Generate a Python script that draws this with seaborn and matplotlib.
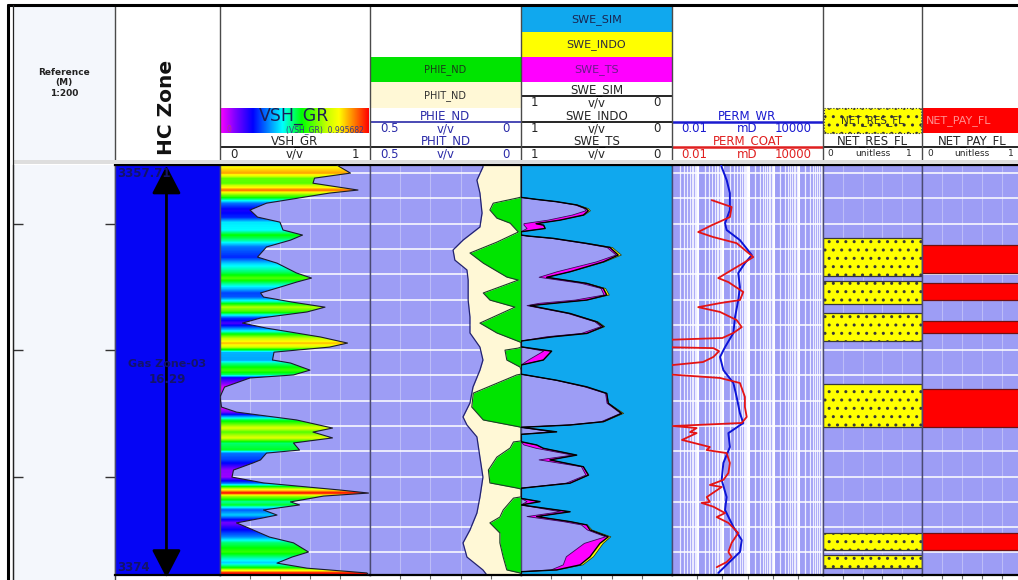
import numpy as np
import matplotlib
matplotlib.use("Agg")
import matplotlib.pyplot as plt
import seaborn as sns
from matplotlib.colors import LinearSegmentedColormap
from matplotlib.patches import Rectangle
from matplotlib.ticker import LogLocator, NullFormatter

sns.set_theme(style="white")
plt.rcParams["font.family"] = ["DejaVu Sans"]

# ---------------------------------------------------------------- data
TOP_DEPTH, BASE_DEPTH = 3357.68, 3373.89
REF_TICKS = [3360, 3365, 3370]

ZONE_NAME = "Gas Zone-03"
ZONE_TOP = 3357.71
ZONE_BASE = 3374.0

VSH_DEPTH = [3357.68, 3357.76, 3358.00, 3358.20, 3358.40, 3358.67, 3358.79, 3359.19, 3359.46,
             3359.74, 3359.94, 3360.25, 3360.45, 3360.65, 3360.92, 3361.32, 3361.56, 3361.95,
             3362.15, 3362.31, 3362.51, 3362.74, 3362.90, 3363.10, 3363.30, 3363.49, 3363.73,
             3363.93, 3364.13, 3364.48, 3364.72, 3364.88, 3365.08, 3365.39, 3365.51, 3365.79,
             3365.98, 3366.10, 3366.46, 3366.85, 3367.25, 3367.45, 3367.76, 3368.08, 3368.24,
             3368.47, 3368.67, 3368.95, 3369.07, 3369.34, 3369.46, 3369.74, 3370.02, 3370.25,
             3370.53, 3370.65, 3370.77, 3371.00, 3371.12, 3371.32, 3371.52, 3371.64, 3371.83,
             3372.03, 3372.39, 3372.62, 3372.98, 3373.18, 3373.42, 3373.62, 3373.81, 3373.89]
VSH_GR = [0.78, 0.80, 0.87, 0.63, 0.62, 0.92, 0.73, 0.31, 0.20,
          0.25, 0.40, 0.42, 0.55, 0.47, 0.31, 0.25, 0.38, 0.51,
          0.61, 0.51, 0.40, 0.27, 0.29, 0.48, 0.70, 0.58, 0.27,
          0.15, 0.31, 0.67, 0.85, 0.73, 0.36, 0.35, 0.47, 0.60,
          0.49, 0.20, 0.03, 0.00, 0.01, 0.11, 0.51, 0.75, 0.62,
          0.75, 0.49, 0.53, 0.31, 0.27, 0.22, 0.09, 0.08, 0.29,
          0.80, 0.99, 0.69, 0.47, 0.53, 0.29, 0.38, 0.28, 0.11,
          0.19, 0.33, 0.49, 0.59, 0.48, 0.38, 0.58, 0.98, 0.99]
VSH_MAX = 0.995682

PHIT_DEPTH = [3357.68, 3357.76, 3358.28, 3358.79, 3359.58, 3360.13, 3360.65, 3361.04, 3361.44,
              3361.83, 3362.23, 3363.02, 3363.69, 3364.32, 3364.88, 3365.39, 3365.79, 3366.46,
              3367.09, 3367.64, 3367.96, 3368.43, 3369.23, 3370.02, 3370.81, 3371.44, 3372.11,
              3372.62, 3373.18, 3373.69, 3373.89]
PHIT_ND = [0.126, 0.126, 0.146, 0.136, 0.129, 0.136, 0.192, 0.225, 0.219,
           0.179, 0.175, 0.175, 0.169, 0.169, 0.136, 0.126, 0.136, 0.159,
           0.169, 0.192, 0.179, 0.146, 0.136, 0.126, 0.136, 0.146, 0.169,
           0.192, 0.179, 0.126, 0.113]

PHIE_DEPTH = [3357.68, 3358.95, 3358.99, 3359.19, 3359.46, 3359.78, 3359.98, 3360.33, 3360.73,
              3361.16, 3361.56, 3362.11, 3362.23, 3362.74, 3363.02, 3363.30, 3363.93, 3364.32,
              3364.68, 3364.72, 3364.88, 3364.92, 3365.00, 3365.39, 3365.67, 3365.79, 3365.95,
              3365.98, 3366.70, 3367.25, 3367.76, 3368.04, 3368.08, 3368.59, 3368.63, 3368.87,
              3369.23, 3369.74, 3370.25, 3370.45, 3370.49, 3370.80, 3370.85, 3371.32, 3371.60,
              3371.83, 3372.23, 3372.62, 3373.18, 3373.69, 3373.81, 3373.89]
PHIE_ND = [0.0, 0.0, 0.014, 0.092, 0.103, 0.080, 0.036, 0.009, 0.080,
           0.169, 0.125, 0.047, 0.009, 0.125, 0.103, 0.020, 0.136, 0.080,
           0.003, 0.0, 0.0, 0.010, 0.053, 0.047, 0.003, 0.0, 0.0,
           0.014, 0.158, 0.163, 0.125, 0.003, 0.0, 0.0, 0.025, 0.036,
           0.080, 0.108, 0.103, 0.014, 0.0, 0.0, 0.025, 0.059, 0.070,
           0.103, 0.070, 0.070, 0.059, 0.047, 0.003, 0.0]

SW_DEPTH = [3357.68, 3358.96, 3359.04, 3359.13, 3359.26, 3359.40, 3359.49, 3359.66, 3359.86,
            3360.00, 3360.06, 3360.19, 3360.32, 3360.45, 3360.49, 3360.58, 3360.78, 3360.94,
            3361.24, 3361.51, 3361.90, 3362.12, 3362.36, 3362.56, 3362.82, 3363.02, 3363.15,
            3363.24, 3363.55, 3363.88, 3364.07, 3364.34, 3364.47, 3364.64, 3364.87, 3365.04,
            3365.39, 3365.59, 3365.95, 3366.19, 3366.45, 3366.71, 3367.10, 3367.50, 3367.83,
            3367.96, 3368.05, 3368.23, 3368.33, 3368.62, 3368.75, 3368.88, 3369.15, 3369.34,
            3369.61, 3369.94, 3370.26, 3370.46, 3370.86, 3370.99, 3371.12, 3371.39, 3371.58,
            3371.78, 3371.91, 3372.11, 3372.38, 3372.64, 3373.17, 3373.49, 3373.69, 3373.76,
            3373.89]
SWE_SIM = [1.0, 1.0, 0.896, 0.764, 0.631, 0.570, 0.554, 0.587, 0.742,
           0.900, 0.850, 0.840, 1.0, 1.0, 0.950, 0.786, 0.565, 0.411,
           0.356, 0.455, 0.675, 0.830, 0.565, 0.455, 0.432, 0.565, 0.786,
           0.940, 0.675, 0.499, 0.455, 0.565, 0.786, 1.0, 1.0, 0.797,
           0.852, 1.0, 1.0, 0.764, 0.565, 0.432, 0.422, 0.333, 0.455,
           0.675, 1.0, 0.764, 1.0, 1.0, 0.896, 0.852, 0.631, 0.808,
           0.587, 0.554, 0.675, 1.0, 1.0, 0.874, 1.0, 0.675, 0.896,
           0.675, 0.565, 0.543, 0.422, 0.477, 0.543, 0.609, 0.764, 1.0,
           1.0]
SWE_TS = [1.0, 1.0, 0.90, 0.77, 0.64, 0.58, 0.57, 0.66, 0.82,
          0.98, 0.98, 0.96, 1.0, 1.0, 0.96, 0.80, 0.58, 0.43,
          0.37, 0.50, 0.76, 0.88, 0.60, 0.47, 0.45, 0.64, 0.88,
          0.96, 0.69, 0.51, 0.47, 0.60, 0.83, 1.0, 1.0, 0.85,
          0.95, 1.0, 1.0, 0.77, 0.58, 0.44, 0.43, 0.34, 0.47,
          0.69, 1.0, 0.80, 1.0, 1.0, 0.98, 0.90, 0.66, 0.88,
          0.60, 0.57, 0.70, 1.0, 1.0, 0.96, 1.0, 0.74, 0.96,
          0.72, 0.60, 0.56, 0.44, 0.58, 0.70, 0.72, 0.80, 1.0,
          1.0]
SWE_INDO = [1.0, 1.0, 0.896, 0.764, 0.625, 0.555, 0.540, 0.580, 0.740,
            0.900, 0.850, 0.840, 1.0, 1.0, 0.950, 0.786, 0.560, 0.395,
            0.335, 0.445, 0.670, 0.830, 0.560, 0.440, 0.415, 0.560, 0.786,
            0.940, 0.675, 0.490, 0.445, 0.560, 0.786, 1.0, 1.0, 0.797,
            0.852, 1.0, 1.0, 0.764, 0.565, 0.432, 0.420, 0.320, 0.450,
            0.675, 1.0, 0.764, 1.0, 1.0, 0.896, 0.852, 0.631, 0.808,
            0.587, 0.550, 0.675, 1.0, 1.0, 0.874, 1.0, 0.675, 0.896,
            0.675, 0.560, 0.530, 0.405, 0.455, 0.520, 0.590, 0.760, 1.0,
            1.0]

PERM_WR_DEPTH = [3357.68, 3357.76, 3358.28, 3358.79, 3359.46, 3359.98, 3360.25, 3360.65, 3361.24,
                 3361.56, 3361.95, 3362.51, 3363.02, 3363.69, 3364.32, 3364.88, 3365.27, 3365.79,
                 3366.30, 3366.85, 3367.49, 3367.88, 3368.28, 3368.83, 3369.46, 3370.13, 3370.81,
                 3371.32, 3371.99, 3372.51, 3372.98, 3373.42, 3373.81]
PERM_WR = [0.90, 0.94, 1.49, 2.0, 2.0, 1.28, 1.48, 5.0, 14.8,
           7.9, 4.3, 5.0, 4.3, 3.2, 2.75, 1.28, 0.81, 1.1,
           2.75, 3.7, 5.0, 6.8, 1.74, 2.0, 1.1, 0.94, 1.48,
           1.28, 2.75, 5.9, 5.0, 1.74, 0.69]

PERM_COAT_DEPTH = [3359.07, 3359.34, 3359.74, 3360.06, 3360.33, 3360.53, 3360.77, 3361.32, 3361.56,
                   3361.91, 3362.15, 3362.31, 3362.70, 3363.02, 3363.14, 3363.30, 3363.49, 3363.81,
                   3364.09, 3364.32, 3364.52, 3364.60, 3364.88, 3364.92, 3365.04, 3365.27, 3365.47,
                   3365.63, 3365.95, 3365.98, 3366.10, 3366.30, 3366.85, 3367.25, 3367.64, 3367.88,
                   3368.00, 3368.08, 3368.24, 3368.28, 3368.55, 3368.83, 3368.95, 3369.07, 3369.46,
                   3369.86, 3370.13, 3370.33, 3370.41, 3370.81, 3371.00, 3371.04, 3371.19, 3371.44,
                   3371.60, 3371.83, 3372.23, 3372.62, 3372.98, 3373.18, 3373.38, 3373.58]
PERM_COAT = [0.38, 2.34, 2.0, 0.38, 0.11, 0.44, 3.7, 17.0, 6.8,
             1.74, 0.69, 1.74, 6.8, 5.0, 0.81, 0.11, 0.81, 3.7,
             5.9, 2.75, 1.0, 0.004, 0.004, 0.44, 0.74, 0.44, 0.17,
             0.004, 0.004, 0.015, 0.81, 5.0, 7.9, 7.9, 9.3, 5.9,
             0.011, 0.095, 0.052, 0.095, 0.025, 0.32, 0.24, 1.48, 2.0,
             1.74, 1.1, 0.32, 0.94, 0.24, 0.32, 0.15, 0.44, 1.28,
             0.60, 1.74, 4.3, 2.34, 1.74, 2.34, 1.48, 0.60]

NET_RES_TOP = [3360.57, 3362.27, 3363.53, 3366.34, 3372.23, 3373.10]
NET_RES_BASE = [3362.07, 3363.18, 3364.64, 3368.04, 3372.90, 3373.62]
NET_PAY_TOP = [3360.85, 3362.35, 3363.85, 3366.54, 3372.23]
NET_PAY_BASE = [3361.95, 3363.02, 3364.32, 3368.04, 3372.90]

# ---------------------------------------------------------------- styling
W, H = 1018, 580
DATA_Y0, DATA_Y1 = 165, 575
LAVENDER = "#9d9df5"
GRIDV = "#bcbcf7"
ZONE_BLUE = "#0505f5"
SW_BLUE = "#10a8ee"
CREAM = "#fff8d6"
GREEN = "#00e400"
NAVY = "#14146a"

VSH_CMAP = LinearSegmentedColormap.from_list(
    "vsh_rainbow",
    [(0.0, "#ff00ff"), (0.1, "#8000ff"), (0.22, "#0000ff"), (0.42, "#00ffff"),
     (0.55, "#00ff00"), (0.72, "#c8ff00"), (0.8, "#ffff00"), (0.9, "#ff8000"), (1.0, "#ff0000")])

fig = plt.figure(figsize=(W / 100, H / 100), dpi=100)
fig.patch.set_facecolor("white")


def px_axes(x0, x1, y0=DATA_Y0, y1=DATA_Y1, **kw):
    return fig.add_axes([x0 / W, 1 - y1 / H, (x1 - x0) / W, (y1 - y0) / H], **kw)


def style_track(ax, xlim, xticks=(), bg=LAVENDER, hgrid=True, log=False):
    ax.set_facecolor(bg)
    if log:
        ax.set_xscale("log")
    ax.set_xlim(*xlim)
    ax.set_ylim(BASE_DEPTH, TOP_DEPTH)
    ax.set_yticks(np.arange(3358, 3374))
    ax.set_xticks(list(xticks))
    ax.set_xlabel("")
    ax.set_ylabel("")
    ax.tick_params(axis="y", length=0, labelleft=False)
    ax.tick_params(axis="x", which="major", top=True, bottom=True, direction="out",
                   length=3, width=0.8, color="#666666", labelbottom=False, labeltop=False)
    ax.grid(False)
    if hgrid:
        ax.grid(True, axis="y", color="white", lw=1.1)
        ax.grid(True, axis="x", which="major", color=GRIDV, lw=0.8)
    ax.set_axisbelow(True)
    for s in ("top", "bottom"):
        ax.spines[s].set_color("black")
        ax.spines[s].set_linewidth(1.6)
    for s in ("left", "right"):
        ax.spines[s].set_color("#4a4a72")
        ax.spines[s].set_linewidth(1.0)


# ---- reference (depth) column
ax_ref = px_axes(13, 115, y1=580)
ax_ref.set_facecolor("#f4f7fc")
ax_ref.set_xlim(0, 1)
ax_ref.set_ylim(BASE_DEPTH + 5 / 25.3, TOP_DEPTH)
ax_ref.set_xticks([])
ax_ref.set_yticks(REF_TICKS)
ax_ref.tick_params(axis="y", left=True, right=True, direction="in", length=7,
                   width=1.0, color="#333333", labelleft=False)
ax_ref.grid(False)
for s in ("top", "bottom"):
    ax_ref.spines[s].set_visible(False)
ax_ref.spines["left"].set_color("#222222")
ax_ref.spines["left"].set_linewidth(0.9)
ax_ref.spines["right"].set_color("#444444")
ax_ref.spines["right"].set_linewidth(1.0)

# ---- HC zone track
ax_hc = px_axes(115, 220)
style_track(ax_hc, (0, 1), bg="white", hgrid=False)
ax_hc.tick_params(axis="x", length=0)
ax_hc.fill_betweenx([ZONE_TOP, ZONE_BASE], 0, 1, color=ZONE_BLUE, lw=0, zorder=1)
ann = ax_hc.annotate("", xy=(0.49, ZONE_TOP), xytext=(0.49, ZONE_BASE),
                     arrowprops=dict(arrowstyle="<|-|>,head_length=1.45,head_width=0.75",
                                     color="black", lw=2.0, shrinkA=0, shrinkB=0),
                     annotation_clip=False, zorder=3)
ytr = ax_hc.get_yaxis_transform()
zone_mid = (ZONE_TOP + ZONE_BASE) / 2
txt_kw = dict(color=NAVY, fontweight="bold", zorder=4, transform=ytr)
ax_hc.text(0.02, ZONE_TOP + 0.32, f"{ZONE_TOP:.2f}", ha="left", va="center", fontsize=8.5, **txt_kw)
ax_hc.text(0.5, zone_mid - 0.3, ZONE_NAME, ha="center", va="center", fontsize=8, **txt_kw)
ax_hc.text(0.5, zone_mid + 0.3, f"{ZONE_BASE - ZONE_TOP:.2f}", ha="center", va="center",
           fontsize=8.5, **txt_kw)
ax_hc.text(0.02, ZONE_BASE - 0.42, f"{ZONE_BASE:g}", ha="left", va="center", fontsize=8.5, **txt_kw)

# ---- VSH_GR track: rainbow fill clipped to the curve
ax_vsh = px_axes(220, 370)
style_track(ax_vsh, (0, 1), xticks=[0.2, 0.4, 0.6, 0.8])
fine = np.linspace(TOP_DEPTH, BASE_DEPTH, 1600)
colour_rows = np.interp(fine, VSH_DEPTH, VSH_GR)[:, None]
im = ax_vsh.imshow(colour_rows, cmap=VSH_CMAP, vmin=0, vmax=VSH_MAX, aspect="auto",
                   extent=[0, 1, BASE_DEPTH, TOP_DEPTH], origin="upper",
                   interpolation="nearest", zorder=1)
clip_poly = ax_vsh.fill_betweenx(VSH_DEPTH, 0, VSH_GR, facecolor="none", edgecolor="none")
im.set_clip_path(clip_poly.get_paths()[0], transform=ax_vsh.transData)
sns.lineplot(x=VSH_GR, y=VSH_DEPTH, orient="y", sort=False, estimator=None,
             color="#1a1a2a", lw=0.8, ax=ax_vsh, zorder=3)
style_track(ax_vsh, (0, 1), xticks=[0.2, 0.4, 0.6, 0.8])
ax_vsh.set_aspect("auto")

# ---- porosity track
ax_phi = px_axes(370, 521)
ax_phi.fill_betweenx(PHIT_DEPTH, PHIT_ND, 0, color=CREAM, lw=0, zorder=1)
sns.lineplot(x=PHIT_ND, y=PHIT_DEPTH, orient="y", sort=False, estimator=None,
             color="#23236e", lw=0.9, ax=ax_phi, zorder=2)
ax_phi.fill_betweenx(PHIE_DEPTH, PHIE_ND, 0, color=GREEN, lw=0, zorder=3)
sns.lineplot(x=PHIE_ND, y=PHIE_DEPTH, orient="y", sort=False, estimator=None,
             color="#1d3d2a", lw=0.8, ax=ax_phi, zorder=4)
style_track(ax_phi, (0.5, 0), xticks=[0.4, 0.3, 0.2, 0.1])

# ---- water saturation track
ax_sw = px_axes(521, 672)
sim = np.array(SWE_SIM)
ts = np.array(SWE_TS)
indo = np.array(SWE_INDO)
ax_sw.fill_betweenx(SW_DEPTH, 1, sim, color=LAVENDER, lw=0, zorder=1)
ax_sw.fill_betweenx(SW_DEPTH, sim, ts, where=ts > sim, interpolate=True,
                    color="#ff00ff", lw=0, zorder=2)
ax_sw.fill_betweenx(SW_DEPTH, indo, sim, where=indo < sim, interpolate=True,
                    color="#ffff00", lw=0, zorder=2)
sns.lineplot(x=SWE_TS, y=SW_DEPTH, orient="y", sort=False, estimator=None,
             color="#3a0a5a", lw=0.6, ax=ax_sw, zorder=3)
sns.lineplot(x=SWE_INDO, y=SW_DEPTH, orient="y", sort=False, estimator=None,
             color="#2a2a10", lw=0.5, ax=ax_sw, zorder=3)
sns.lineplot(x=SWE_SIM, y=SW_DEPTH, orient="y", sort=False, estimator=None,
             color="black", lw=1.0, ax=ax_sw, zorder=4)
style_track(ax_sw, (1, 0), xticks=[0.8, 0.6, 0.4, 0.2], bg=SW_BLUE, hgrid=False)

# ---- permeability track (log)
ax_k = px_axes(672, 823)
ax_k.set_xscale("log")
sns.lineplot(x=PERM_WR, y=PERM_WR_DEPTH, orient="y", sort=False, estimator=None,
             color="#0c14d6", lw=1.4, ax=ax_k, zorder=3)
sns.lineplot(x=PERM_COAT, y=PERM_COAT_DEPTH, orient="y", sort=False, estimator=None,
             color="#e41414", lw=1.3, ax=ax_k, zorder=4)
style_track(ax_k, (0.01, 10000), xticks=[0.1, 1, 10, 100, 1000], log=True)
ax_k.xaxis.set_minor_locator(LogLocator(base=10, subs=np.arange(2, 10), numticks=100))
ax_k.xaxis.set_minor_formatter(NullFormatter())
ax_k.tick_params(axis="x", which="minor", length=0)
ax_k.grid(True, axis="x", which="major", color="white", lw=2.2)
ax_k.grid(True, axis="x", which="minor", color="#ececff", lw=0.9)

# ---- net reservoir / net pay flags
ax_nr = px_axes(823, 922)
ax_nr.barh([(t + b) / 2 for t, b in zip(NET_RES_TOP, NET_RES_BASE)],
           [1.0] * len(NET_RES_TOP),
           height=[b - t for t, b in zip(NET_RES_TOP, NET_RES_BASE)],
           left=0, color="#ffff00", edgecolor="#383838", hatch="..", lw=0.9, zorder=2)
style_track(ax_nr, (0, 1), xticks=[0.2, 0.4, 0.6, 0.8])

ax_np = px_axes(922, 1022)
ax_np.barh([(t + b) / 2 for t, b in zip(NET_PAY_TOP, NET_PAY_BASE)],
           [1.0] * len(NET_PAY_TOP),
           height=[b - t for t, b in zip(NET_PAY_TOP, NET_PAY_BASE)],
           left=0, color="#ff0000", edgecolor="#701010", lw=0.9, zorder=2)
style_track(ax_np, (0, 1), xticks=[0.2, 0.4, 0.6, 0.8])

# ---------------------------------------------------------------- header
hd = fig.add_axes([0, 0, 1, 1], zorder=20)
hd.patch.set_visible(False)
hd.axis("off")

hd.add_patch(Rectangle((13, 5), 102, 155, facecolor="#f4f7fc", edgecolor="none", zorder=0))

# rainbow scale bar of VSH_GR
hd.imshow(np.linspace(0, 1, 256)[None, :], cmap=VSH_CMAP, aspect="auto",
          extent=[220.5, 369.5, 133, 108], zorder=1)
hd.text(294, 120.5, "VSH_GR", ha="center", va="baseline", fontsize=12.5, color="#1c1c58", zorder=2)
hd.text(227, 130, "0", ha="left", va="center", fontsize=5.5, color="#c0308a", zorder=2)
hd.text(364, 130, f"(VSH_GR)  {VSH_MAX:g}", ha="right", va="center", fontsize=5.5,
        color="#3a3a8a", zorder=2)


# fill legend boxes
def legend_box(x0, x1, y0, y1, face, label, color, fs=8, hatch=None, edge="none", ha="center"):
    hd.add_patch(Rectangle((x0, y0), x1 - x0, y1 - y0, facecolor=face, edgecolor=edge,
                           hatch=hatch, lw=0.8, ls=":" if hatch else "-", zorder=1))
    tx = (x0 + x1) / 2 if ha == "center" else x0 + 3
    hd.text(tx, (y0 + y1) / 2 + 0.5, label, ha=ha, va="center", fontsize=fs, color=color, zorder=2)


legend_box(521, 672, 6, 32, SW_BLUE, "SWE_SIM", "#1a2450")
legend_box(521, 672, 32, 57, "#ffff00", "SWE_INDO", "#2a2a40")
legend_box(521, 672, 57, 82, "#ff00ff", "SWE_TS", "#6a1a8a")
legend_box(370, 521, 57, 82, GREEN, "PHIE_ND", "#1a3a1a", fs=7)
legend_box(370, 521, 82, 108, CREAM, "PHIT_ND", "#303030", fs=7)
legend_box(824, 921, 108, 133, "#ffff00", "NET_RES_FL", "#303030", fs=7.5,
           hatch="..", edge="#333333")
legend_box(923, 1030, 108, 133, "#ff0000", "NET_PAY_FL", "#ff9090", fs=8, ha="left")


# curve headers: name (its underscore sits under the curve line), then scale row
def curve_header(x0, x1, line_y, name, left, unit, right, color, line_color=None,
                 lw=1.2, fs=8.5, sfs=8.5, loff=10, roff=11):
    line_color = line_color or color
    hd.text((x0 + x1) / 2, line_y - 2.6, name, ha="center", va="baseline",
            fontsize=fs, color=color, zorder=2)
    hd.plot([x0, x1], [line_y, line_y], color=line_color, lw=lw, zorder=3,
            solid_capstyle="butt")
    ys = line_y + 7
    hd.text(x0 + loff, ys, left, ha="left", va="center", fontsize=sfs, color=color, zorder=2)
    hd.text((x0 + x1) / 2, ys, unit, ha="center", va="center", fontsize=sfs, color=color, zorder=2)
    hd.text(x1 - roff, ys, right, ha="right", va="center", fontsize=sfs, color=color, zorder=2)


curve_header(220, 370, 147, "VSH_GR", "0", "v/v", "1", "#262626", "black")
curve_header(370, 521, 122, "PHIE_ND", "0.5", "v/v", "0", "#2b2ba8")
curve_header(370, 521, 147, "PHIT_ND", "0.5", "v/v", "0", "#2b2ba8", "black")
curve_header(521, 672, 96, "SWE_SIM", "1", "v/v", "0", "#262626", "black")
curve_header(521, 672, 122, "SWE_INDO", "1", "v/v", "0", "#262626", "black")
curve_header(521, 672, 147, "SWE_TS", "1", "v/v", "0", "#262626", "black")
curve_header(672, 823, 122, "PERM_WR", "0.01", "mD", "10000", "#1a1ad0", lw=1.8, loff=9)
curve_header(672, 823, 147, "PERM_COAT", "0.01", "mD", "10000", "#e02020", lw=1.8, loff=9)
curve_header(823, 922, 147, "NET_RES_FL", "0", "unitless", "1", "#262626", "black",
             sfs=6.5, loff=4, roff=10)
curve_header(922, 1022, 147, "NET_PAY_FL", "0", "unitless", "1", "#262626", "black",
             sfs=6.5, loff=5, roff=8)

# column titles
hd.text(64, 83, "Reference\n(M)\n1:200", ha="center", va="center", fontsize=6.5,
        fontweight="bold", color="#222222", linespacing=1.15)
hd.text(167, 107, "HC Zone", ha="center", va="center", rotation=90, fontsize=14.5,
        fontweight="bold", color="#111111")

# frame, separators and the band between header and tracks
hd.add_patch(Rectangle((13, 159.5), 1010, 4.5, facecolor="#dedede", edgecolor="none", zorder=4))
for xs in (115, 220, 370, 521, 672, 823, 922):
    hd.plot([xs, xs], [5, 159.5], color="#4a4a4a", lw=1.0, zorder=3)
hd.plot([8, 1020], [5, 5], color="black", lw=2.2, zorder=5)
hd.plot([8, 8], [5, 582], color="black", lw=2.2, zorder=5)
hd.plot([13, 13], [5, 582], color="#222222", lw=0.9, zorder=5)

hd.set_xlim(0, W)
hd.set_ylim(H, 0)
hd.set_aspect("auto")

fig.savefig("out.png", dpi=100)
